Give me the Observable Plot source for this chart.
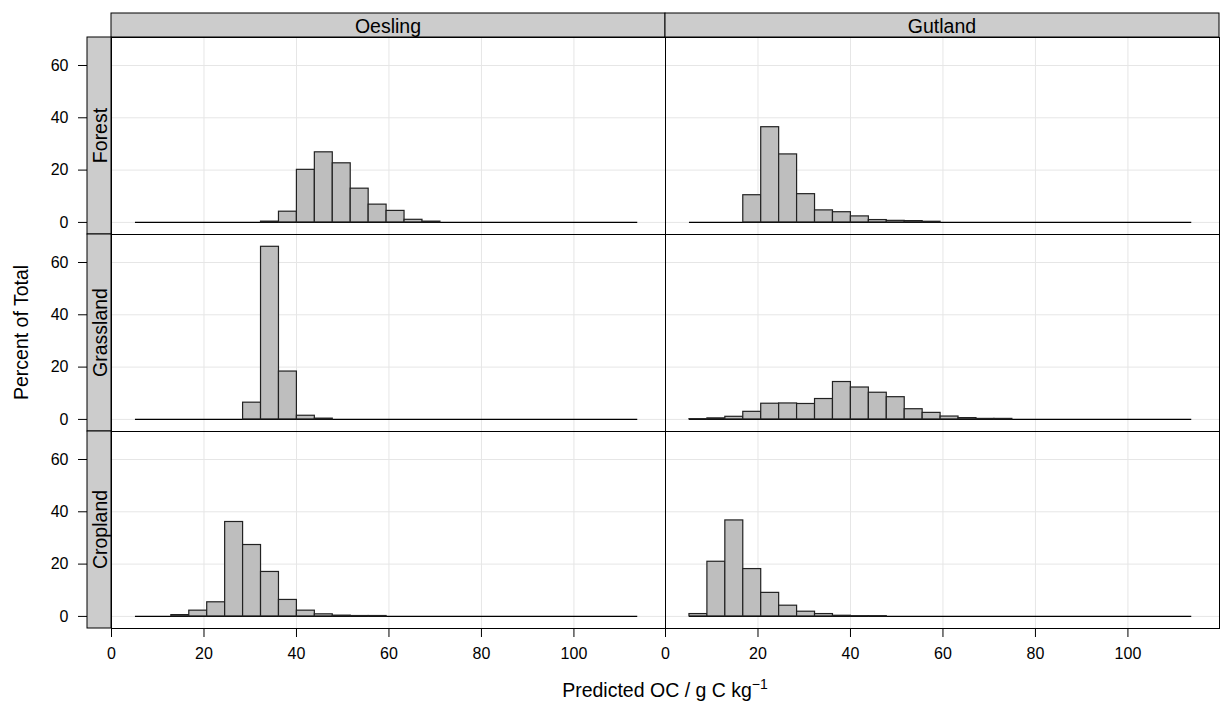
<!DOCTYPE html>
<html>
<head>
<meta charset="utf-8">
<script src="https://cdn.jsdelivr.net/npm/d3@7"></script>
<script src="https://cdn.jsdelivr.net/npm/@observablehq/plot@0.6"></script>
<style>
  body { margin: 0; background: #fff; }
  #chart { width: 1220px; height: 711px; }
</style>
</head>
<body>
<div id="chart"></div>
<script>
// ---- data (percent of total per histogram bin) ----
const regions = ["Oesling", "Gutland"];
const landUses = ["Forest", "Grassland", "Cropland"];
const breakMin = 5.18;   // first histogram break (g C/kg)
const breakMax = 113.8;  // last histogram break
const nBins = 28;

const oeslingForest    = [0, 0, 0, 0, 0, 0, 0, 0.3, 4.1, 20.1, 26.8, 22.6, 12.9, 6.8, 4.4, 1.0, 0.3, 0, 0, 0, 0, 0, 0, 0, 0, 0, 0, 0];
const gutlandForest    = [0, 0, 0, 10.4, 36.4, 26.0, 10.8, 4.6, 3.9, 2.3, 0.9, 0.6, 0.5, 0.25, 0, 0, 0, 0, 0, 0, 0, 0, 0, 0, 0, 0, 0, 0];
const oeslingGrassland = [0, 0, 0, 0, 0, 0, 6.4, 66.0, 18.3, 1.4, 0.3, 0, 0, 0, 0, 0, 0, 0, 0, 0, 0, 0, 0, 0, 0, 0, 0, 0];
const gutlandGrassland = [0.1, 0.4, 1.0, 2.9, 6.0, 6.1, 5.9, 7.8, 14.3, 12.2, 10.2, 8.5, 3.9, 2.5, 1.1, 0.5, 0.2, 0.2, 0, 0, 0, 0, 0, 0, 0, 0, 0, 0];
const oeslingCropland  = [0, 0, 0.5, 2.2, 5.4, 36.1, 27.3, 17.0, 6.3, 2.2, 0.8, 0.3, 0.15, 0.15, 0, 0, 0, 0, 0, 0, 0, 0, 0, 0, 0, 0, 0, 0];
const gutlandCropland  = [0.9, 20.9, 36.7, 18.1, 9.0, 4.1, 1.8, 0.9, 0.25, 0.1, 0.1, 0, 0, 0, 0, 0, 0, 0, 0, 0, 0, 0, 0, 0, 0, 0, 0, 0];

const xTicks = [0, 20, 40, 60, 80, 100];
const yTicks = [0, 20, 40, 60];
const xDomain = [0, 119.8];
const yDomain = [-4.62, 70.7];

const xTitle = "Predicted OC / g C kg";
const xTitleSup = "\u22121";
const yTitle = "Percent of Total";

// ---- build table ----
const series = {
  Oesling: { Forest: oeslingForest, Grassland: oeslingGrassland, Cropland: oeslingCropland },
  Gutland: { Forest: gutlandForest, Grassland: gutlandGrassland, Cropland: gutlandCropland }
};
const binWidth = (breakMax - breakMin) / nBins;
const bins = [];
for (const region of regions) {
  for (const land of landUses) {
    series[region][land].forEach((pct, k) => {
      bins.push({ region, land, x1: breakMin + k * binWidth, x2: breakMin + (k + 1) * binWidth, pct });
    });
  }
}
const bars = bins.filter(d => d.pct > 0);

// ---- layout ----
const W = 1220, H = 711;
const mL = 110, mR = 1, mT = 37, mB = 83;
const strip = 24;
const font = "Liberation Sans, Arial, Helvetica, sans-serif";

const plot = Plot.plot({
  width: W, height: H,
  marginLeft: mL, marginRight: mR, marginTop: mT, marginBottom: mB,
  style: { fontFamily: font, fontSize: "16px", color: "#000", background: "#fff", overflow: "visible" },
  fx: { domain: regions, padding: 0, axis: null },
  fy: { domain: landUses, padding: 0, axis: null },
  x: { domain: xDomain },
  y: { domain: yDomain },
  marks: [
    Plot.gridX(xTicks, { stroke: "#e6e6e6", strokeOpacity: 1, strokeWidth: 1 }),
    Plot.gridY(yTicks, { stroke: "#e6e6e6", strokeOpacity: 1, strokeWidth: 1 }),
    Plot.ruleY([0], { x1: breakMin, x2: breakMax, stroke: "#000", strokeWidth: 1.2 }),
    Plot.rect(bars, {
      fx: "region", fy: "land",
      x1: "x1", x2: "x2", y1: 0, y2: "pct",
      fill: "#bebebe", stroke: "#222", strokeWidth: 1.2
    }),
    Plot.frame({ stroke: "#000", strokeWidth: 1 }),
    Plot.axisX({ ticks: xTicks, anchor: "bottom", tickSize: 9, tickPadding: 10, fontSize: 16, label: null, stroke: "#000" }),
    Plot.axisY({ ticks: yTicks, anchor: "left", tickSize: 9, tickPadding: 10, dx: -strip, fontSize: 16, label: null, stroke: "#000" })
  ]
});

document.getElementById("chart").appendChild(plot);

// ---- lattice-style strips and axis titles ----
const svg = d3.select(plot);
const fx = plot.scale("fx"), fy = plot.scale("fy");
const bwX = fx.bandwidth ?? (fx.range[1] - fx.range[0]) / regions.length;
const bwY = fy.bandwidth ?? (fy.range[1] - fy.range[0]) / landUses.length;
const top0 = fy.apply(landUses[0]);
const left0 = fx.apply(regions[0]);

const g = svg.append("g").attr("font-family", font);
for (const r of regions) {
  const x0 = fx.apply(r);
  g.append("rect").attr("x", x0).attr("y", top0 - strip).attr("width", bwX).attr("height", strip)
    .attr("fill", "#cccccc").attr("stroke", "#000").attr("stroke-width", 1);
  g.append("text").attr("x", x0 + bwX / 2).attr("y", top0 - strip / 2 + 1)
    .attr("text-anchor", "middle").attr("dominant-baseline", "central")
    .attr("font-size", 19.5).attr("fill", "#000").text(r);
}
for (const l of landUses) {
  const y0 = fy.apply(l);
  g.append("rect").attr("x", left0 - strip).attr("y", y0).attr("width", strip).attr("height", bwY)
    .attr("fill", "#cccccc").attr("stroke", "#000").attr("stroke-width", 1);
  const cx = left0 - strip / 2 + 1, cy = y0 + bwY / 2;
  g.append("text").attr("transform", `translate(${cx},${cy}) rotate(-90)`)
    .attr("text-anchor", "middle").attr("dominant-baseline", "central")
    .attr("font-size", 19.5).attr("fill", "#000").text(l);
}
// y title
const panelMidY = (top0 + fy.apply(landUses[landUses.length - 1]) + bwY) / 2;
g.append("text").attr("transform", `translate(21,${panelMidY}) rotate(-90)`)
  .attr("text-anchor", "middle").attr("dominant-baseline", "central")
  .attr("font-size", 19.5).attr("fill", "#000").text(yTitle);
// x title with superscript
const panelMidX = (left0 + fx.apply(regions[regions.length - 1]) + bwX) / 2;
const xt = g.append("text").attr("x", panelMidX).attr("y", H - 14)
  .attr("text-anchor", "middle").attr("font-size", 19.5).attr("fill", "#000");
xt.append("tspan").text(xTitle);
xt.append("tspan").attr("dy", -8).attr("font-size", 14).text(xTitleSup);
</script>
</body>
</html>
